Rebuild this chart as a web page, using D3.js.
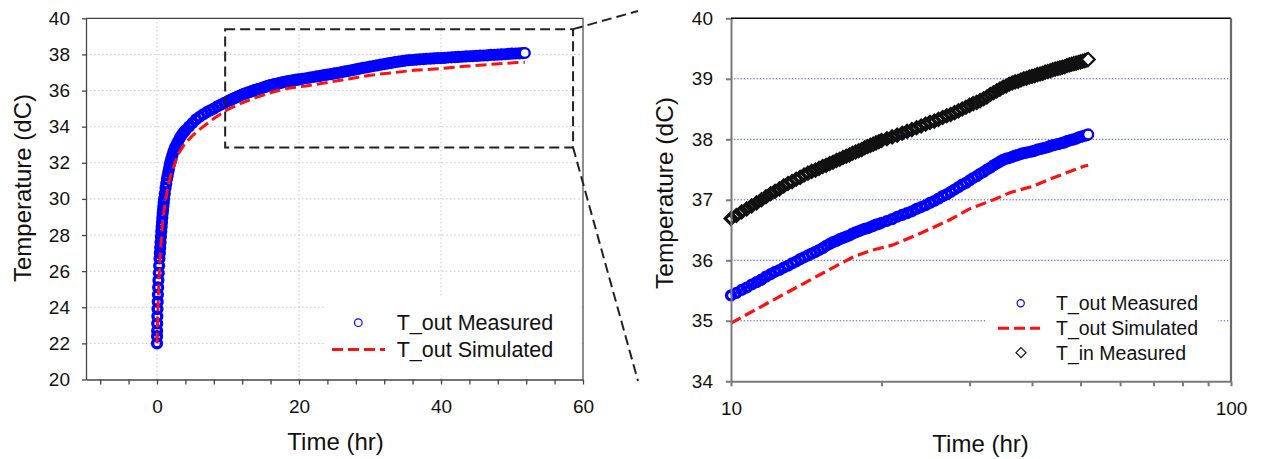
<!DOCTYPE html>
<html>
<head>
<meta charset="utf-8">
<script src="https://cdn.jsdelivr.net/npm/d3@7"></script>
<style>
  body { margin: 0; background: #fff; }
  text { font-family: Arial, "Liberation Sans", sans-serif; fill: #111; }
</style>
</head>
<body>
<div id="vis"></div>
<script>
// ---- data ----
// T_out measured, first 10 hours (only on the left chart)
const earlyTimeHr = [0, 0.01, 0.02, 0.03, 0.05, 0.07, 0.1, 0.13, 0.16, 0.2, 0.25, 0.3, 0.35, 0.4, 0.45, 0.5, 0.55, 0.6, 0.65, 0.7,
  0.75, 0.8, 0.85, 0.9, 0.95, 1.0, 1.1, 1.2, 1.3, 1.4, 1.5, 1.6, 1.7, 1.8, 1.9, 2.0, 2.15, 2.3, 2.45, 2.6,
  2.8, 3.0, 3.25, 3.5, 3.75, 4.0, 4.5, 5.0, 5.5, 6.0, 6.5, 7.0, 7.5, 8.0, 8.5, 9.0, 9.5];
const earlyToutMeasured = [22.0, 22.4, 22.7, 23.1, 23.5, 23.9, 24.3, 24.7, 25.1, 25.5, 25.9, 26.3, 26.7, 27.0, 27.3, 27.6, 27.9, 28.2, 28.45, 28.7,
  28.95, 29.2, 29.4, 29.6, 29.8, 30.0, 30.3, 30.6, 30.85, 31.1, 31.3, 31.5, 31.7, 31.9, 32.05, 32.2, 32.4, 32.6, 32.75, 32.9,
  33.05, 33.2, 33.4, 33.55, 33.68, 33.8, 34.0, 34.2, 34.4, 34.55, 34.68, 34.8, 34.9, 35.0, 35.12, 35.22, 35.32];

// from 10 hr on (both charts)
const timeHr = [10, 10.25, 10.5, 10.75, 11, 11.25, 11.5, 11.75, 12, 12.25, 12.5, 12.75, 13, 13.25, 13.5, 13.75, 14, 14.25, 14.5, 14.75,
  15, 15.25, 15.5, 15.75, 16, 16.25, 16.5, 16.75, 17, 17.25, 17.5, 17.75, 18, 18.25, 18.5, 18.75, 19, 19.25, 19.5, 19.75, 20,
  20.5, 21, 21.5, 22, 22.5, 23, 23.5, 24, 24.5, 25, 25.5, 26, 26.5, 27, 27.5, 28, 28.5, 29, 29.5, 30,
  30.5, 31, 31.5, 32, 32.5, 33, 33.5, 34, 34.5, 35, 35.5, 36,
  36.5, 37, 37.5, 38, 38.5, 39, 39.5, 40, 40.5, 41, 41.5, 42, 42.5, 43, 43.5, 44, 44.5, 45, 45.5, 46,
  46.5, 47, 47.5, 48, 48.5, 49, 49.5, 50, 50.5, 51, 51.5, 51.8];
const toutMeasured = [35.42, 35.46, 35.51, 35.55, 35.6, 35.64, 35.68, 35.73, 35.77, 35.81, 35.84, 35.88, 35.91, 35.95, 35.98, 36.02, 36.05,
  36.08, 36.11, 36.14, 36.17, 36.2, 36.24, 36.27, 36.3, 36.32, 36.35, 36.37, 36.39, 36.41, 36.44, 36.46, 36.48,
  36.5, 36.52, 36.53, 36.55, 36.57, 36.59, 36.6, 36.62,
  36.65, 36.68, 36.72, 36.75, 36.78, 36.81, 36.85, 36.88, 36.91, 36.95, 36.98, 37.02, 37.06, 37.09, 37.13, 37.17, 37.21, 37.25, 37.28, 37.32,
  37.36, 37.39, 37.43, 37.46, 37.5, 37.53, 37.57, 37.6, 37.63, 37.66, 37.68, 37.69,
  37.71, 37.73, 37.74, 37.76, 37.77, 37.78, 37.79, 37.8, 37.81, 37.83, 37.84, 37.85, 37.86, 37.87, 37.89, 37.9, 37.91, 37.92, 37.93, 37.94,
  37.95, 37.97, 37.98, 37.99, 38.0, 38.01, 38.03, 38.04, 38.05, 38.06, 38.07, 38.08];
const tinMeasured = [36.69, 36.74, 36.8, 36.85, 36.9, 36.95, 37.0, 37.05, 37.1, 37.14, 37.18, 37.23, 37.27, 37.3, 37.34, 37.37, 37.41,
  37.44, 37.47, 37.49, 37.52, 37.55, 37.57, 37.6, 37.62, 37.65, 37.67, 37.7, 37.72, 37.74, 37.77, 37.79, 37.81,
  37.83, 37.86, 37.88, 37.9, 37.92, 37.94, 37.96, 37.98,
  38.01, 38.04, 38.07, 38.1, 38.13, 38.16, 38.19, 38.22, 38.25, 38.28, 38.3, 38.33, 38.36, 38.39, 38.41, 38.44, 38.47, 38.5, 38.53, 38.56,
  38.59, 38.61, 38.64, 38.67, 38.7, 38.74, 38.77, 38.8, 38.83, 38.86, 38.88, 38.91,
  38.93, 38.95, 38.96, 38.98, 39.0, 39.01, 39.03, 39.04, 39.05, 39.07, 39.08, 39.09, 39.11, 39.12, 39.13, 39.15, 39.16, 39.17, 39.18, 39.19,
  39.2, 39.22, 39.23, 39.24, 39.25, 39.26, 39.27, 39.28, 39.29, 39.3, 39.31, 39.32];

// simulated outlet temperature (line)
const simTimeHr = [0, 0.1, 0.25, 0.5, 0.75, 1, 1.5, 2, 3, 4, 5, 6, 8, 10, 12, 14, 16, 17.6, 19, 21, 24, 27.4, 30, 33.5, 36.2, 40, 43.4, 47, 50.6, 51.8];
const toutSimulated = [22.0, 23.5, 25.3, 27.2, 28.5, 29.4, 30.6, 31.4, 32.5, 33.1, 33.5, 33.85, 34.45, 34.96, 35.32, 35.62, 35.88, 36.06, 36.16, 36.25,
  36.45, 36.67, 36.85, 37.0, 37.12, 37.22, 37.34, 37.45, 37.55, 37.57];

// axis ticks
const leftYTicks = [20, 22, 24, 26, 28, 30, 32, 34, 36, 38, 40];
const leftXTicks = d3.range(-8, 61, 4);
const leftXLabels = [0, 20, 40, 60];
const rightYTicks = [34, 35, 36, 37, 38, 39, 40];
const rightXTicks = [10, 20, 30, 40, 50, 60, 70, 80, 90, 100];
const rightXLabels = [10, 100];

// zoom window drawn on the left chart (data units)
const zoomBoxTime = [9.6, 58.6];
const zoomBoxTemp = [32.85, 39.4];

const legendLeft = ['T_out Measured', 'T_out Simulated'];
const legendRight = ['T_out Measured', 'T_out Simulated', 'T_in Measured'];

// ---- drawing ----
const width = 1262;
const height = 459;

const svg = d3.select('#vis').append('svg')
    .attr('width', width)
    .attr('height', height);

svg.append('rect').attr('width', width).attr('height', height).attr('fill', '#fff');

const toutAll = earlyTimeHr.map((t, i) => [t, earlyToutMeasured[i]])
    .concat(timeHr.map((t, i) => [t, toutMeasured[i]]));
const simAll = simTimeHr.map((t, i) => [t, toutSimulated[i]]);
const tinAll = timeHr.map((t, i) => [t, tinMeasured[i]]);

const diamond = s => `M0,${-s}L${s},0L0,${s}L${-s},0Z`;
const BLUE = '#0000ff', RED = '#ff1010';

// draws the measured circles as a dense band, last marker left open
function circleSeries(g, data, x, y) {
    g.append('g').selectAll('circle')
        .data(data)
        .join('circle')
        .attr('cx', d => x(d[0]))
        .attr('cy', d => y(d[1]))
        .attr('r', 4.4)
        .attr('fill', 'none')
        .attr('stroke', BLUE)
        .attr('stroke-width', 3.4);
    const last = data[data.length - 1];
    g.append('circle')
        .attr('cx', x(last[0])).attr('cy', y(last[1]))
        .attr('r', 4.6).attr('fill', '#fff')
        .attr('stroke', BLUE).attr('stroke-width', 1.6);
}

// ================= left chart =================
const xL = d3.scaleLinear().domain([-10, 60]).range([86, 583]);
const yL = d3.scaleLinear().domain([20, 40]).range([379.5, 18.3]);

const gL = svg.append('g');

// grid
gL.append('g').selectAll('line')
    .data(leftYTicks.filter(d => d > 20 && d < 40))
    .join('line')
    .attr('x1', xL.range()[0]).attr('x2', xL.range()[1])
    .attr('y1', d => yL(d)).attr('y2', d => yL(d))
    .attr('stroke', '#c8c8c8').attr('stroke-dasharray', '1.5,2.5');
gL.append('g').selectAll('line')
    .data([0, 20, 40])
    .join('line')
    .attr('x1', d => xL(d)).attr('x2', d => xL(d))
    .attr('y1', yL.range()[0]).attr('y2', yL.range()[1])
    .attr('stroke', '#c8c8c8').attr('stroke-dasharray', '1.5,2.5');

// data
circleSeries(gL, toutAll, xL, yL);

gL.append('path')
    .datum(simAll)
    .attr('d', d3.line().x(d => xL(d[0])).y(d => yL(d[1])))
    .attr('fill', 'none')
    .attr('stroke', RED)
    .attr('stroke-width', 3)
    .attr('stroke-dasharray', '11,5');

// axes
const axL_y = gL.append('g')
    .attr('transform', `translate(${xL.range()[0]},0)`)
    .call(d3.axisLeft(yL).tickValues(leftYTicks).tickSize(4).tickSizeOuter(0).tickPadding(12));
const axL_x = gL.append('g')
    .attr('transform', `translate(0,${yL.range()[0]})`)
    .call(d3.axisBottom(xL).tickValues(leftXTicks).tickSize(5).tickSizeOuter(0).tickPadding(15)
        .tickFormat(d => leftXLabels.includes(d) ? d : ''));
[axL_y, axL_x].forEach(a => {
    a.selectAll('path, line').attr('stroke', '#444').attr('stroke-width', 1.3);
    a.selectAll('text').attr('font-size', 19).attr('fill', '#111')
        .attr('font-family', 'Arial, "Liberation Sans", sans-serif');
});
// frame top and right
gL.append('path')
    .attr('d', `M${xL.range()[0]},${yL.range()[1]}H${xL.range()[1]}V${yL.range()[0]}`)
    .attr('fill', 'none').attr('stroke', '#444').attr('stroke-width', 1.2);

// legend
gL.append('rect').attr('x', 325).attr('y', 297).attr('width', 256).attr('height', 78).attr('fill', '#fff');
gL.append('circle').attr('cx', 358.3).attr('cy', 322.7).attr('r', 3.8)
    .attr('fill', '#fff').attr('stroke', BLUE).attr('stroke-width', 1.2);
gL.append('line').attr('x1', 332).attr('x2', 385).attr('y1', 349.5).attr('y2', 349.5)
    .attr('stroke', RED).attr('stroke-width', 3).attr('stroke-dasharray', '11,5');
gL.selectAll('.legtxtL').data(legendLeft).join('text')
    .attr('class', 'legtxtL')
    .attr('x', 396.7).attr('y', (d, i) => 330 + i * 27)
    .attr('font-size', 21.5)
    .text(d => d);

// titles
gL.append('text').attr('transform', 'translate(30.5,188) rotate(-90)')
    .attr('text-anchor', 'middle').attr('font-size', 24).text('Temperature (dC)');
gL.append('text').attr('x', 335.5).attr('y', 450)
    .attr('text-anchor', 'middle').attr('font-size', 24).text('Time (hr)');

// zoom window + connectors
const bx0 = xL(zoomBoxTime[0]), bx1 = xL(zoomBoxTime[1]);
const by0 = yL(zoomBoxTemp[1]), by1 = yL(zoomBoxTemp[0]);
svg.append('rect')
    .attr('x', bx0).attr('y', by0).attr('width', bx1 - bx0).attr('height', by1 - by0)
    .attr('fill', 'none').attr('stroke', '#222').attr('stroke-width', 2)
    .attr('stroke-dasharray', '10,5');
svg.append('line').attr('x1', bx1).attr('y1', by0).attr('x2', 638).attr('y2', 11)
    .attr('stroke', '#222').attr('stroke-width', 2).attr('stroke-dasharray', '10,5');
svg.append('line').attr('x1', bx1).attr('y1', by1).attr('x2', 638).attr('y2', 381)
    .attr('stroke', '#222').attr('stroke-width', 2).attr('stroke-dasharray', '10,5');

// ================= right chart =================
const xR = d3.scaleLog().domain([10, 100]).range([731, 1231]);
const yR = d3.scaleLinear().domain([34, 40]).range([381.3, 18.3]);

const gR = svg.append('g');

gR.append('g').selectAll('line')
    .data(rightYTicks.filter(d => d > 34 && d < 40))
    .join('line')
    .attr('x1', xR.range()[0]).attr('x2', xR.range()[1])
    .attr('y1', d => yR(d)).attr('y2', d => yR(d))
    .attr('stroke', '#3c3cff').attr('stroke-dasharray', '1.2,2');

// T_out measured
circleSeries(gR, toutAll.filter(d => d[0] >= 10), xR, yR);

// T_in measured
gR.append('g').selectAll('path')
    .data(tinAll)
    .join('path')
    .attr('d', diamond(5.8))
    .attr('transform', d => `translate(${xR(d[0])},${yR(d[1])})`)
    .attr('fill', 'none')
    .attr('stroke', '#111')
    .attr('stroke-width', 3.2);
const tinLast = tinAll[tinAll.length - 1];
gR.append('path')
    .attr('d', diamond(6.2))
    .attr('transform', `translate(${xR(tinLast[0])},${yR(tinLast[1])})`)
    .attr('fill', '#fff').attr('stroke', '#111').attr('stroke-width', 1.6);

// T_out simulated
gR.append('path')
    .datum(simAll.filter(d => d[0] >= 10))
    .attr('d', d3.line().x(d => xR(d[0])).y(d => yR(d[1])))
    .attr('fill', 'none')
    .attr('stroke', RED)
    .attr('stroke-width', 3.2)
    .attr('stroke-dasharray', '11,5');

const axR_y = gR.append('g')
    .attr('transform', `translate(${xR.range()[0]},0)`)
    .call(d3.axisLeft(yR).tickValues(rightYTicks).tickSize(5).tickSizeOuter(0).tickPadding(13).tickFormat(d3.format('d')));
const axR_x = gR.append('g')
    .attr('transform', `translate(0,${yR.range()[0]})`)
    .call(d3.axisBottom(xR).tickValues(rightXTicks).tickSize(5).tickSizeOuter(0).tickPadding(15)
        .tickFormat(d => rightXLabels.includes(d) ? d : ''));
[axR_y, axR_x].forEach(a => {
    a.selectAll('path, line').attr('stroke', '#7a7a7a').attr('stroke-width', 2);
    a.selectAll('text').attr('font-size', 19).attr('fill', '#111')
        .attr('font-family', 'Arial, "Liberation Sans", sans-serif');
});
gR.append('line')
    .attr('x1', xR.range()[0]).attr('x2', xR.range()[1])
    .attr('y1', yR.range()[1]).attr('y2', yR.range()[1])
    .attr('stroke', '#000').attr('stroke-width', 1.5);
gR.append('line')
    .attr('x1', xR.range()[1]).attr('x2', xR.range()[1])
    .attr('y1', yR.range()[1]).attr('y2', yR.range()[0])
    .attr('stroke', '#6a6a6a').attr('stroke-width', 2.2);

// legend
gR.append('rect').attr('x', 987).attr('y', 289).attr('width', 231).attr('height', 78).attr('fill', '#fff');
gR.append('circle').attr('cx', 1020.7).attr('cy', 303.3).attr('r', 3.6)
    .attr('fill', '#fff').attr('stroke', BLUE).attr('stroke-width', 1.2);
gR.append('line').attr('x1', 998).attr('x2', 1040).attr('y1', 328.3).attr('y2', 328.3)
    .attr('stroke', RED).attr('stroke-width', 3).attr('stroke-dasharray', '11,5');
gR.append('path').attr('d', diamond(5))
    .attr('transform', 'translate(1021,352.7)')
    .attr('fill', '#fff').attr('stroke', '#111').attr('stroke-width', 1.2);
gR.selectAll('.legtxtR').data(legendRight).join('text')
    .attr('class', 'legtxtR')
    .attr('x', 1056).attr('y', (d, i) => 310.3 + i * 24.7)
    .attr('font-size', 19.5)
    .text(d => d);

gR.append('text').attr('transform', 'translate(672.5,193) rotate(-90)')
    .attr('text-anchor', 'middle').attr('font-size', 24.5).text('Temperature (dC)');
gR.append('text').attr('x', 980.5).attr('y', 451.5)
    .attr('text-anchor', 'middle').attr('font-size', 24).text('Time (hr)');
</script>
</body>
</html>
